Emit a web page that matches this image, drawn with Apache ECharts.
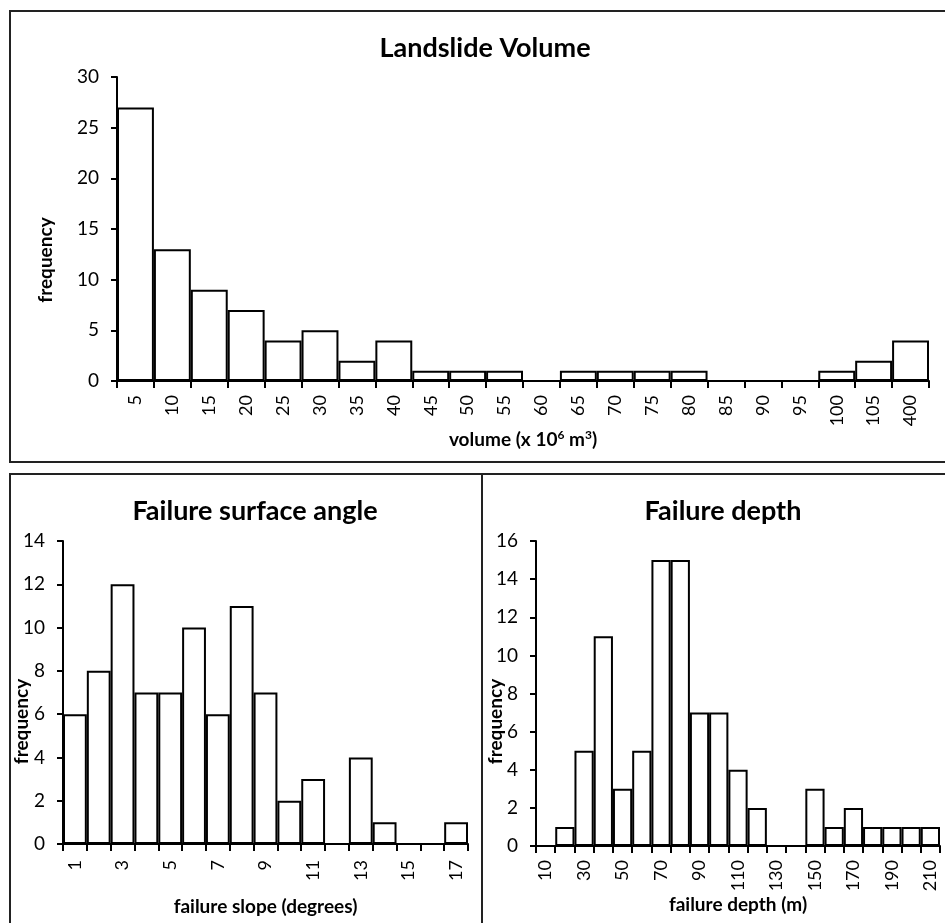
<!DOCTYPE html>
<html><head><meta charset="utf-8">
<script src="https://cdn.jsdelivr.net/npm/echarts@6/dist/echarts.min.js"></script>
<style>html,body{margin:0;padding:0;background:#fff}#c{width:945px;height:923px}</style>
</head><body><div id="c"></div>
<script>
const volumeCats = ['5','10','15','20','25','30','35','40','45','50','55','60','65','70','75','80','85','90','95','100','105','400'];
const volumeFreq = [27,13,9,7,4,5,2,4,1,1,1,0,1,1,1,1,0,0,0,1,2,4];
const slopeCats = ['1','2','3','4','5','6','7','8','9','10','11','12','13','14','15','16','17'];
const slopeFreq = [6,8,12,7,7,10,6,11,7,2,3,0,4,1,0,0,1];
const depthCats = ['10','20','30','40','50','60','70','80','90','100','110','120','130','140','150','160','170','180','190','200','210'];
const depthFreq = [0,1,5,11,3,5,15,15,7,7,4,2,0,0,3,1,2,1,1,1,1];

const FONT = 'Lato, "Open Sans", sans-serif';
const chart = echarts.init(document.getElementById('c'), null, {renderer:'canvas'});

function xAx(idx, cats, name, labelInterval, nameGap, labelMargin, labelSize, nameStyleExtra){
  return {
    type:'category', gridIndex:idx, data:cats,
    boundaryGap:true,
    name:name, nameLocation:'middle', nameGap:nameGap, nameMoveOverlap:false,
    nameTextStyle:Object.assign({fontFamily:FONT, fontWeight:'bold', fontSize:19, color:'#000'}, nameStyleExtra||{}),
    axisLine:{lineStyle:{color:'#000', width:2}},
    axisTick:{show:true, interval:0, length:7, inside:false, lineStyle:{color:'#000', width:2}},
    axisLabel:{interval:labelInterval, rotate:90, fontFamily:FONT, fontSize:labelSize, color:'#000', margin:labelMargin},
    splitLine:{show:false}
  };
}
function yAx(idx, max, interval, nameGap, nameShift){
  return {
    type:'value', gridIndex:idx, min:0, max:max, interval:interval,
    name:'frequency', nameLocation:'middle', nameGap:nameGap, nameRotate:90, nameMoveOverlap:false,
    nameTextStyle:{fontFamily:FONT, fontWeight:'bold', fontSize:19, color:'#000', padding:[0, nameShift*2, 0, 0]},
    axisLine:{show:true, lineStyle:{color:'#000', width:2}},
    axisTick:{show:true, length:6, lineStyle:{color:'#000', width:2}},
    axisLabel:{fontFamily:FONT, fontSize:19, color:'#000', margin:18},
    splitLine:{show:false}
  };
}
function barSeries(idx, data){
  return {
    type:'bar', xAxisIndex:idx, yAxisIndex:idx, data:data,
    barCategoryGap:'0%', barGap:'0%',
    itemStyle:{color:'#fff', borderColor:'#000', borderWidth:2},
    emphasis:{disabled:true}, silent:true, animation:false
  };
}

const option = {
  animation:false,
  backgroundColor:'#fff',
  title:[
    {text:'Landslide Volume', left:480, top:30, textAlign:'center', textStyle:{fontFamily:FONT, fontWeight:'bold', fontSize:27, color:'#000'}},
    {text:'Failure surface angle', left:250, top:493, textAlign:'center', textStyle:{fontFamily:FONT, fontWeight:'bold', fontSize:27, color:'#000'}},
    {text:'Failure depth', left:718, top:493, textAlign:'center', textStyle:{fontFamily:FONT, fontWeight:'bold', fontSize:27, color:'#000'}}
  ],
  grid:[
    {left:117, right:16, top:77, bottom:542},
    {left:63, right:477, top:541, bottom:79},
    {left:536, right:5, top:541, bottom:77}
  ],
  xAxis:[
    xAx(0, volumeCats, 'volume (x 10{sup|6} m{sup|3})', 0, 48, 14, 18, {rich:{sup:{fontFamily:FONT, fontWeight:'bold', fontSize:12, color:'#000', verticalAlign:'top', padding:[0,0,9,0]}}}),
    xAx(1, slopeCats, 'failure slope (degrees)', 1, 53, 16, 18),
    xAx(2, depthCats, 'failure depth (m)', 1, 49, 14, 18)
  ],
  yAxis:[
    yAx(0, 30, 5, 62, 31),
    yAx(1, 14, 2, 32, 29),
    yAx(2, 16, 2, 31, 28)
  ],
  series:[
    barSeries(0, volumeFreq),
    barSeries(1, slopeFreq),
    barSeries(2, depthFreq)
  ],
  graphic:[
    {type:'rect', shape:{x:10, y:11, width:960, height:451}, style:{fill:null, stroke:'#222', lineWidth:2}, silent:true},
    {type:'rect', shape:{x:10, y:474, width:472, height:480}, style:{fill:null, stroke:'#222', lineWidth:2}, silent:true},
    {type:'rect', shape:{x:482, y:474, width:480, height:480}, style:{fill:null, stroke:'#222', lineWidth:2}, silent:true}
  ]
};
chart.setOption(option);
</script>
</body></html>
